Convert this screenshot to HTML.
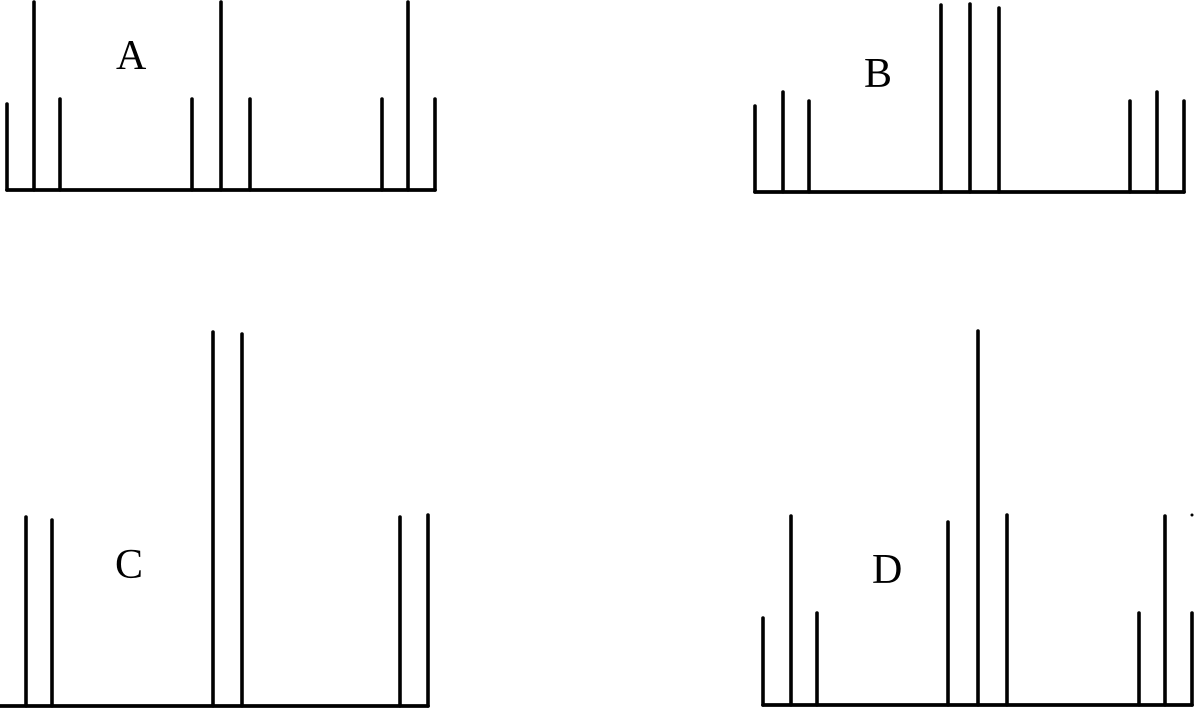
<!DOCTYPE html>
<html><head><meta charset="utf-8"><style>
html,body{margin:0;padding:0;background:#fff;width:1195px;height:708px;overflow:hidden}
svg{display:block}
text{font-family:"Liberation Serif",serif;font-size:42px;fill:#000}
</style></head><body>
<svg width="1195" height="708" viewBox="0 0 1195 708" stroke="#000" stroke-width="3.6" stroke-linecap="round" fill="none">
<!-- A -->
<line x1="7" y1="190" x2="435" y2="190" stroke-width="3.8"/>
<line x1="7" y1="190" x2="7" y2="104"/>
<line x1="34" y1="190" x2="34" y2="2"/>
<line x1="60" y1="190" x2="60" y2="99"/>
<line x1="192" y1="190" x2="192" y2="99"/>
<line x1="221" y1="190" x2="221" y2="2"/>
<line x1="250" y1="190" x2="250" y2="99"/>
<line x1="382" y1="190" x2="382" y2="99"/>
<line x1="408" y1="190" x2="408" y2="2"/>
<line x1="435" y1="190" x2="435" y2="99"/>
<text x="116" y="69" stroke="none">A</text>
<!-- B -->
<line x1="755" y1="192" x2="1184" y2="192" stroke-width="3.8"/>
<line x1="755" y1="192" x2="755" y2="106"/>
<line x1="783" y1="192" x2="783" y2="92"/>
<line x1="809" y1="192" x2="809" y2="101"/>
<line x1="941" y1="192" x2="941" y2="5"/>
<line x1="970" y1="192" x2="970" y2="4"/>
<line x1="999" y1="192" x2="999" y2="8"/>
<line x1="1130" y1="192" x2="1130" y2="101"/>
<line x1="1157" y1="192" x2="1157" y2="92"/>
<line x1="1184" y1="192" x2="1184" y2="101"/>
<text x="864" y="87" stroke="none">B</text>
<!-- C -->
<line x1="0" y1="706" x2="428" y2="706" stroke-width="3.8"/>
<line x1="26" y1="706" x2="26" y2="517"/>
<line x1="52" y1="706" x2="52" y2="520"/>
<line x1="213" y1="706" x2="213" y2="332"/>
<line x1="242" y1="706" x2="242" y2="334"/>
<line x1="400" y1="706" x2="400" y2="517"/>
<line x1="428" y1="706" x2="428" y2="515"/>
<text x="115" y="578" stroke="none">C</text>
<!-- D -->
<line x1="763" y1="705" x2="1192" y2="705" stroke-width="3.8"/>
<line x1="763" y1="705" x2="763" y2="618"/>
<line x1="791" y1="705" x2="791" y2="516"/>
<line x1="817" y1="705" x2="817" y2="613"/>
<line x1="948" y1="705" x2="948" y2="522"/>
<line x1="978" y1="705" x2="978" y2="331"/>
<line x1="1007" y1="705" x2="1007" y2="515"/>
<line x1="1139" y1="705" x2="1139" y2="613"/>
<line x1="1165" y1="705" x2="1165" y2="516"/>
<line x1="1192" y1="705" x2="1192" y2="613"/>
<circle cx="1192" cy="515" r="1.5" fill="#000" stroke="none"/>
<text x="872" y="583" stroke="none">D</text>
</svg>
</body></html>
